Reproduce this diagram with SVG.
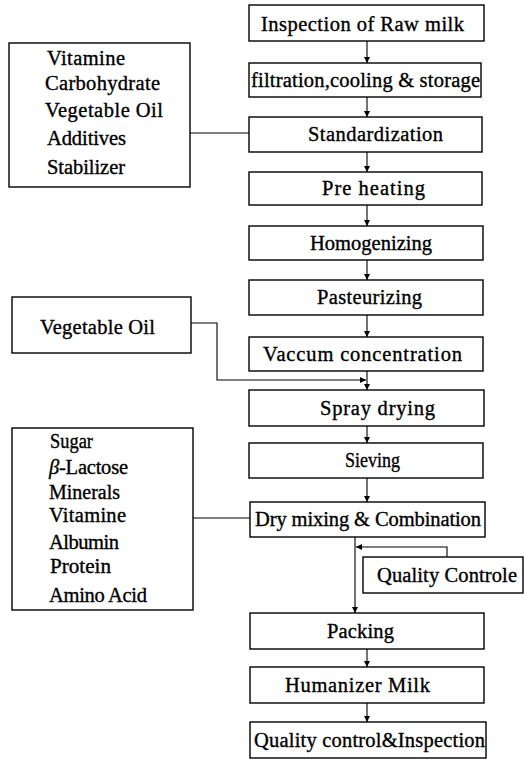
<svg xmlns="http://www.w3.org/2000/svg" width="524" height="759" viewBox="0 0 524 759">
<style>
rect.box{fill:#fff;stroke:#000;stroke-width:1.4}
text{font-family:"Liberation Serif","Times New Roman",serif;font-size:20.5px;fill:#000;stroke:#000;stroke-width:0.35}
.conn path,.conn line{fill:none;stroke:#000;stroke-width:1.1}
</style>
<defs>
<marker id="arr" markerUnits="userSpaceOnUse" markerWidth="8" markerHeight="8" refX="6" refY="3" orient="auto">
<path d="M0,0 L6,3 L0,6 Z" fill="#000"/>
</marker>
</defs>
<rect width="524" height="759" fill="#fff"/>
<g class="conn">
<line x1="367" y1="41" x2="367" y2="63" marker-end="url(#arr)"/>
<line x1="367" y1="97" x2="367" y2="117" marker-end="url(#arr)"/>
<line x1="367" y1="152" x2="367" y2="172" marker-end="url(#arr)"/>
<line x1="367" y1="205" x2="367" y2="226" marker-end="url(#arr)"/>
<line x1="367" y1="260" x2="367" y2="280" marker-end="url(#arr)"/>
<line x1="367" y1="315" x2="367" y2="337" marker-end="url(#arr)"/>
<line x1="367" y1="371" x2="367" y2="390" marker-end="url(#arr)"/>
<line x1="367" y1="426" x2="367" y2="443" marker-end="url(#arr)"/>
<line x1="367" y1="478" x2="367" y2="502" marker-end="url(#arr)"/>
<line x1="355" y1="537" x2="355" y2="613" marker-end="url(#arr)"/>
<line x1="367" y1="649" x2="367" y2="667" marker-end="url(#arr)"/>
<line x1="367" y1="703" x2="367" y2="722" marker-end="url(#arr)"/>
<path d="M447,557 V547 H356" marker-end="url(#arr)"/>
<path d="M191,323 H217 V380 H366" marker-end="url(#arr)"/>
<line x1="190" y1="133" x2="249" y2="133"/>
<line x1="193" y1="518" x2="250" y2="518"/>
</g>
<g id="n-inspection"><rect class="box" x="249" y="5" width="235" height="36"/><text x="261" y="31" textLength="203" lengthAdjust="spacing">Inspection of Raw milk</text></g>
<g id="n-filtration"><rect class="box" x="249" y="63" width="232" height="34"/><text x="251" y="87" textLength="229" lengthAdjust="spacing">filtration,cooling &amp; storage</text></g>
<g id="n-standardization"><rect class="box" x="249" y="117" width="233" height="35"/><text x="308" y="141" textLength="135" lengthAdjust="spacing">Standardization</text></g>
<g id="n-preheating"><rect class="box" x="249" y="172" width="233" height="33"/><text x="322" y="195" textLength="103" lengthAdjust="spacing">Pre heating</text></g>
<g id="n-homogenizing"><rect class="box" x="249" y="226" width="234" height="34"/><text x="310" y="250" textLength="122" lengthAdjust="spacing">Homogenizing</text></g>
<g id="n-pasteurizing"><rect class="box" x="249" y="280" width="234" height="35"/><text x="317" y="304" textLength="105" lengthAdjust="spacing">Pasteurizing</text></g>
<g id="n-vaccum"><rect class="box" x="249" y="337" width="234" height="34"/><text x="263" y="361" textLength="199" lengthAdjust="spacing">Vaccum concentration</text></g>
<g id="n-spray"><rect class="box" x="249" y="390" width="235" height="36"/><text x="320" y="415" textLength="115" lengthAdjust="spacing">Spray drying</text></g>
<g id="n-sieving"><rect class="box" x="249" y="443" width="234" height="35"/><text x="345" y="467" textLength="55" lengthAdjust="spacingAndGlyphs">Sieving</text></g>
<g id="n-drymixing"><rect class="box" x="250" y="502" width="235" height="35"/><text x="255" y="526" textLength="226" lengthAdjust="spacing">Dry mixing &amp; Combination</text></g>
<g id="n-qc"><rect class="box" x="363" y="557" width="160" height="36"/><text x="377" y="582" textLength="140" lengthAdjust="spacing">Quality Controle</text></g>
<g id="n-packing"><rect class="box" x="250" y="613" width="234" height="36"/><text x="327" y="638" textLength="67" lengthAdjust="spacing">Packing</text></g>
<g id="n-humanizer"><rect class="box" x="250" y="667" width="234" height="36"/><text x="285" y="692" textLength="145" lengthAdjust="spacing">Humanizer Milk</text></g>
<g id="n-qci"><rect class="box" x="250" y="722" width="236" height="36"/><text x="254" y="747" textLength="231" lengthAdjust="spacing">Quality control&amp;Inspection</text></g>
<g id="n-additives1"><rect class="box" x="9" y="43" width="181" height="144"/>
<text x="47" y="65" textLength="78" lengthAdjust="spacing">Vitamine</text>
<text x="45" y="90" textLength="115" lengthAdjust="spacing">Carbohydrate</text>
<text x="45" y="117" textLength="118" lengthAdjust="spacing">Vegetable Oil</text>
<text x="47" y="145" textLength="79" lengthAdjust="spacing">Additives</text>
<text x="47" y="174" textLength="78" lengthAdjust="spacing">Stabilizer</text>
</g>
<g id="n-vegoil"><rect class="box" x="12" y="297" width="179" height="56"/><text x="40" y="334" textLength="115" lengthAdjust="spacing">Vegetable Oil</text></g>
<g id="n-additives2"><rect class="box" x="12" y="428" width="181" height="182"/>
<text x="50" y="448" textLength="43" lengthAdjust="spacingAndGlyphs">Sugar</text>
<text x="49" y="474" textLength="79" lengthAdjust="spacing"><tspan font-style="italic">β</tspan>-Lactose</text>
<text x="49" y="499" textLength="71" lengthAdjust="spacingAndGlyphs">Minerals</text>
<text x="49" y="522" textLength="77" lengthAdjust="spacing">Vitamine</text>
<text x="49" y="549" textLength="70" lengthAdjust="spacing">Albumin</text>
<text x="50" y="573" textLength="61" lengthAdjust="spacingAndGlyphs">Protein</text>
<text x="49" y="602" textLength="98" lengthAdjust="spacing">Amino Acid</text>
</g>
</svg>
